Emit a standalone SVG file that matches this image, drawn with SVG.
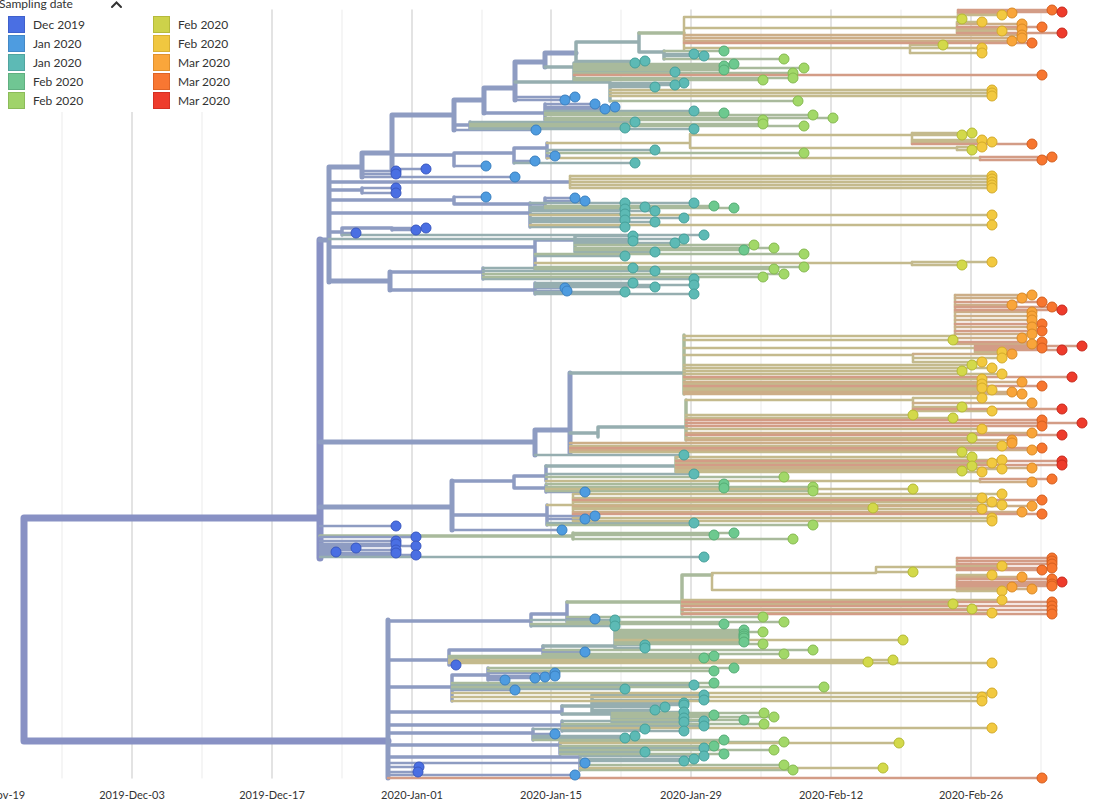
<svg xmlns="http://www.w3.org/2000/svg" width="1097" height="808" viewBox="0 0 1097 808">
<style>
.gl{stroke:#dcdcdc;stroke-width:1.6}
.gs{stroke:#eeeeee;stroke-width:1.2}
.ax{font-family:Lato,'Open Sans',sans-serif;font-size:11px;fill:#333;text-anchor:middle}
.lg{font-family:Lato,'Open Sans',sans-serif;font-size:12px;fill:#333}
path{fill:none;stroke-linecap:round}
.k0{stroke:#8891C4;stroke-width:7}
.k1{stroke:#8E9CC2}
.k2{stroke:#96AEB0}
.k3{stroke:#A9BA9C}
.k4{stroke:#C4BA8D}
.k5{stroke:#CCAE88}
.k6{stroke:#D39C86}
.w5{stroke-width:5}
.w4{stroke-width:3.5}
.w3{stroke-width:2.5}
circle{stroke-width:1}
.c1{fill:#4A6FE3;stroke:#3A58C0}
.c2{fill:#4E9CE0;stroke:#3A80C0}
.c3{fill:#5DBAB5;stroke:#45A09A}
.c4{fill:#6DC98F;stroke:#55AD75}
.c5{fill:#A2D868;stroke:#86BA50}
.c6{fill:#D3D94A;stroke:#B4BA33}
.c7{fill:#F2C940;stroke:#D4AB2A}
.c8{fill:#F9A53A;stroke:#DA8A26}
.c9{fill:#F7762F;stroke:#D55E1E}
.c10{fill:#EE3B2B;stroke:#C8291C}
</style>
<rect width="1097" height="808" fill="#ffffff"/>
<g id="grid">
<path class="gs" d="M62 10V778M202 10V778M342 10V778M482 10V778M621 10V778M761 10V778M901 10V778M1041 10V778"/>
<path class="gl" d="M132 10V778M272 10V778M412 10V778M551 10V778M691 10V778M831 10V778M971 10V778"/>
</g>
<g id="axis-labels">
<text class="ax" x="-8" y="799">2019-Nov-19</text>
<text class="ax" x="132" y="799">2019-Dec-03</text>
<text class="ax" x="272" y="799">2019-Dec-17</text>
<text class="ax" x="412" y="799">2020-Jan-01</text>
<text class="ax" x="551" y="799">2020-Jan-15</text>
<text class="ax" x="691" y="799">2020-Jan-29</text>
<text class="ax" x="831" y="799">2020-Feb-12</text>
<text class="ax" x="971" y="799">2020-Feb-26</text>
</g>
<g id="connectors">
<path class="k0" d="M24 518V741M24 518H320M24 741H388M320 240V558"/>
<path class="k1 w5" d="M320 240H329M329 167V282M329 167H362M362 153V177M362 153H392M392 115V169M392 115H454M454 100V130M454 100H484M484 88V113M484 88H515M515 62V100M515 62H545M545 53V67M545 53H576M320 442H535M535 430V455M535 430H570M570 373V453M320 507H452M452 481V530M388 620V778M329 281H390M390 272V290"/>
<path class="k1 w4" d="M392 155H454M454 153V166M454 153H514M514 148V163M514 148H547M547 143V158M329 190H362M362 188V193M329 200H454M454 197V204M454 204H545M545 198V208M329 213H530M530 203V227M329 232H342M342 228V235M342 228H392M392 228V230M329 247H535M535 240V269M390 272H483M483 268V279M390 290H535M535 283V294M484 113H545M545 104V120M454 125H470M470 122V129M452 481H514M514 476V488M514 476H546M546 466V481M514 488H546M546 485V492M452 515H547M547 505V525M388 621H531M531 614V626M531 614H567M567 602V622M388 660H449M449 650V665M449 650H543M543 646V654M388 687H452M452 675V701M452 675H488M488 668V680M388 712H562M562 706V714M388 725H562M562 721V731M388 733H533M533 729V740M388 745H560M560 742V754M388 757H580M580 756V770M329 182H570M535 240H575"/>
<path class="k2 w4" d="M576 42V61M576 42H639M639 33V52M639 52H664M664 51V59M545 67H574M574 63V80M515 82H610M610 82V101M575 236V252M570 373H684M570 433H598M598 427V437M598 427H686M543 646H615M615 630V648M562 706H592M592 695V712M562 714H612M612 713V722M546 466H676"/>
<path class="k3 w4" d="M639 33H684M684 335V394M686 400V440M676 457V472M320 536H573M573 533V539M567 602H682M682 575V614M682 575H712"/>
<path class="k4 w3" d="M684 17V50M684 17H958M958 10V19M684 28H957M957 22V33M684 48H910M910 45V53M547 143H690M690 134V148M690 135H912M912 133V144M690 148H957M957 147V150M547 158H980M980 157V160M570 176V188M684 336H955M955 295V344M684 348H975M975 346V352M684 355H913M913 354V362M686 400H913M913 398V411M535 263H912M912 262V265M546 481H980M980 479V482M547 505H573M573 494V521M712 573V590M712 573H876M876 567V572M876 567H957M957 558V570M712 590H957M957 575V591"/>
<path class="k1 w3" d="M515 97H575M515 100H565M545 104H595M545 107H615M545 109H605M454 130H536M547 156H555M514 161H535M454 166H486M392 169H426M362 171H396M362 174H396M362 177H515M362 188H396M362 193H396M454 197H486M545 198H575M545 201H585M342 233H356M392 228H426M392 230H416M535 288H565M535 291H567M546 492H585M547 516H595M547 519H585M320 526H396M452 530H562M320 537H416M320 541H396M320 544H396M320 546H416M320 548H356M320 550H396M320 552H336M320 553H396M320 555H416M567 619H595M543 652H585M449 665H456M488 673H555M488 676H555M488 677H545M488 678H535M488 680H505M452 690H515M533 734H555M388 763H585M388 767H419M388 772H418M388 775H575"/>
<path class="k2 w3" d="M664 54H694M664 56H704M576 61H645M574 63H635M574 72H675M610 83H684M610 85H675M610 87H655M545 111H694M470 122H635M470 128H625M470 129H694M547 150H655M514 163H635M545 203H694M530 203H625M530 207H645M530 209H625M530 211H655M530 214H625M530 218H684M530 220H625M530 222H655M530 227H625M342 235H704M329 239H684M575 236H633M575 241H633M575 243H675M575 252H655M535 256H625M483 268H633M483 271H655M483 279H694M535 283H633M535 285H694M535 287H655M535 292H625M535 294H694M535 455H684M546 474H694M547 523H694M320 557H704M531 620H615M531 626H615M615 645H645M615 648H645M452 685H694M452 689H625M592 695H704M592 700H704M592 703H684M592 705H684M592 707H665M592 710H655M592 712H684M612 718H684M612 722H684M562 721H704M562 726H704M562 731H684M533 729H645M533 736H635M533 738H625M560 748H704M560 752H645M580 756H704M580 759H694M580 761H684"/>
<path class="k3 w3" d="M664 51H724M664 59H784M574 64H734M574 66H724M574 68H804M574 70H724M574 73H793M574 78H793M574 80H763M610 101H798M545 113H724M545 115H813M545 118H833M545 120H763M470 124H763M470 126H804M547 153H804M545 206H714M545 208H734M575 245H754M575 248H774M575 250H744M535 254H804M535 267H804M535 269H774M483 274H784M483 277H763M546 477H784M546 484H724M546 487H813M546 488H724M546 491H813M547 525H813M573 533H734M573 535H714M573 539H793M567 617H763M567 622H784M531 624H724M615 630H744M615 632H763M615 634H744M615 636H744M615 638H744M615 642H744M615 644H763M543 650H813M543 654H784M449 656H714M449 658H704M488 668H734M488 671H714M452 683H714M452 687H824M612 713H764M612 715H714M612 717H774M612 720H744M562 724H764M533 740H724M560 742H784M560 746H714M560 750H774M560 754H724M580 765H784M580 770H793"/>
<path class="k4 w3" d="M958 15H1002M958 19H962M957 22H982M957 31H1002M910 45H943M910 48H982M910 53H982M610 90H992M610 93H992M610 96H992M912 133H972M912 135H962M912 140H982M912 142H992M957 147H982M957 150H972M570 176H992M570 179H992M570 182H992M570 185H992M570 188H992M530 215H992M530 225H992M912 262H992M912 265H962M684 340H953M975 352H1002M913 358H1002M913 362H982M684 365H972M684 368H992M684 371H962M684 374H1002M684 379H982M684 384H982M684 388H982M684 390H992M913 398H982M913 407H962M913 411H992M686 415H913M686 418H953M686 429H982M686 438H972M570 446H1002M570 452H962M676 457H972M676 460H1002M676 463H992M676 466H972M676 469H1002M676 471H962M676 472H982M546 489H913M573 494H1002M573 498H982M573 502H992M573 505H1002M573 508H873M573 509H982M573 518H992M573 521H992M957 566H1002M876 572H913M957 575H992M957 591H1002M682 600H1002M682 604H953M682 609H972M682 613H992M615 640H903M449 660H893M449 662H868M449 663H992M452 693H992M452 697H982M452 701H982M562 728H992M560 743H899M580 768H883"/>
<path class="k5 w3" d="M958 13H1012M957 24H1022M957 29H1022M684 35H1022M684 38H1022M684 41H1012M955 295H1032M955 298H1022M955 305H1012M955 312H1032M955 316H1032M955 320H1032M955 327H1032M955 334H1032M955 338H1022M955 344H1032M913 354H1012M684 382H1022M684 392H1012M684 394H1022M913 403H1032M686 433H1032M686 440H1012M570 443H1012M570 450H1032M676 468H1032M980 482H1032M573 506H1032M573 512H1022M957 577H1022M957 587H1012M957 589H1032"/>
<path class="k6 w3" d="M958 10H1052M958 12H1062M957 27H1042M957 33H1062M684 43H1032M574 75H1042M912 144H1032M980 157H1052M980 160H1042M955 302H1042M955 307H1052M955 310H1062M955 324H1042M955 331H1042M955 342H1042M975 346H1082M975 348H1042M975 350H1062M684 377H1072M684 386H1042M913 409H1062M686 420H1042M686 423H1082M686 426H1042M686 435H1062M570 448H1042M676 461H1062M676 465H1062M980 479H1052M573 500H1042M573 514H1042M957 558H1052M957 561H1052M957 564H1052M957 568H1052M957 570H1042M957 579H1052M957 582H1062M957 584H1052M957 586H1052M682 602H1052M682 606H1052M682 610H1052M682 614H1052M388 778H1042"/>
</g>
<g id="clade-upper">
<circle class="c9" cx="1052" cy="10" r="5"/><circle class="c10" cx="1062" cy="12" r="5"/><circle class="c8" cx="1012" cy="13" r="5"/><circle class="c7" cx="1002" cy="15" r="5"/><circle class="c6" cx="962" cy="19" r="5"/><circle class="c7" cx="982" cy="22" r="5"/><circle class="c8" cx="1022" cy="24" r="5"/><circle class="c9" cx="1042" cy="27" r="5"/><circle class="c8" cx="1022" cy="29" r="5"/><circle class="c7" cx="1002" cy="31" r="5"/><circle class="c10" cx="1062" cy="33" r="5"/><circle class="c8" cx="1022" cy="35" r="5"/><circle class="c8" cx="1022" cy="38" r="5"/><circle class="c8" cx="1012" cy="41" r="5"/><circle class="c9" cx="1032" cy="43" r="5"/><circle class="c6" cx="943" cy="45" r="5"/><circle class="c7" cx="982" cy="48" r="5"/><circle class="c7" cx="982" cy="53" r="5"/>
<circle class="c4" cx="724" cy="51" r="5"/><circle class="c3" cx="694" cy="54" r="5"/><circle class="c3" cx="704" cy="56" r="5"/><circle class="c5" cx="784" cy="59" r="5"/><circle class="c3" cx="645" cy="61" r="5"/><circle class="c4" cx="734" cy="64" r="5"/><circle class="c4" cx="724" cy="66" r="5"/><circle class="c3" cx="635" cy="63" r="5"/><circle class="c5" cx="804" cy="68" r="5"/><circle class="c4" cx="724" cy="70" r="5"/><circle class="c3" cx="675" cy="72" r="5"/><circle class="c5" cx="793" cy="73" r="5"/><circle class="c9" cx="1042" cy="75" r="5"/><circle class="c5" cx="793" cy="78" r="5"/><circle class="c5" cx="763" cy="80" r="5"/>
<circle class="c3" cx="684" cy="83" r="5"/><circle class="c3" cx="675" cy="85" r="5"/><circle class="c3" cx="655" cy="87" r="5"/><circle class="c7" cx="992" cy="90" r="5"/><circle class="c7" cx="992" cy="93" r="5"/><circle class="c7" cx="992" cy="96" r="5"/><circle class="c5" cx="798" cy="101" r="5"/><circle class="c2" cx="575" cy="97" r="5"/><circle class="c2" cx="565" cy="100" r="5"/>
<circle class="c2" cx="595" cy="104" r="5"/><circle class="c2" cx="615" cy="107" r="5"/><circle class="c2" cx="605" cy="109" r="5"/><circle class="c3" cx="694" cy="111" r="5"/><circle class="c4" cx="724" cy="113" r="5"/><circle class="c5" cx="813" cy="115" r="5"/><circle class="c5" cx="833" cy="118" r="5"/><circle class="c5" cx="763" cy="120" r="5"/><circle class="c3" cx="635" cy="122" r="5"/><circle class="c5" cx="763" cy="124" r="5"/><circle class="c5" cx="804" cy="126" r="5"/><circle class="c3" cx="625" cy="128" r="5"/><circle class="c2" cx="536" cy="130" r="5"/><circle class="c3" cx="694" cy="129" r="5"/>
<circle class="c6" cx="972" cy="133" r="5"/><circle class="c6" cx="962" cy="135" r="5"/><circle class="c7" cx="982" cy="140" r="5"/><circle class="c7" cx="992" cy="142" r="5"/><circle class="c9" cx="1032" cy="144" r="5"/><circle class="c7" cx="982" cy="147" r="5"/><circle class="c6" cx="972" cy="150" r="5"/><circle class="c3" cx="655" cy="150" r="5"/><circle class="c5" cx="804" cy="153" r="5"/><circle class="c2" cx="555" cy="156" r="5"/><circle class="c9" cx="1052" cy="157" r="5"/><circle class="c9" cx="1042" cy="160" r="5"/><circle class="c2" cx="535" cy="161" r="5"/><circle class="c3" cx="635" cy="163" r="5"/><circle class="c2" cx="486" cy="166" r="5"/><circle class="c1" cx="426" cy="169" r="5"/><circle class="c1" cx="396" cy="171" r="5"/><circle class="c1" cx="396" cy="174" r="5"/><circle class="c2" cx="515" cy="177" r="5"/>
<circle class="c7" cx="992" cy="176" r="5"/><circle class="c7" cx="992" cy="179" r="5"/><circle class="c7" cx="992" cy="182" r="5"/><circle class="c7" cx="992" cy="185" r="5"/><circle class="c7" cx="992" cy="188" r="5"/><circle class="c1" cx="396" cy="188" r="5"/><circle class="c1" cx="396" cy="193" r="5"/><circle class="c2" cx="486" cy="197" r="5"/><circle class="c2" cx="575" cy="198" r="5"/><circle class="c2" cx="585" cy="201" r="5"/><circle class="c3" cx="694" cy="203" r="5"/><circle class="c4" cx="714" cy="206" r="5"/><circle class="c4" cx="734" cy="208" r="5"/>
<circle class="c3" cx="625" cy="203" r="5"/><circle class="c3" cx="645" cy="207" r="5"/><circle class="c3" cx="625" cy="209" r="5"/><circle class="c3" cx="655" cy="211" r="5"/><circle class="c3" cx="625" cy="214" r="5"/><circle class="c7" cx="992" cy="215" r="5"/><circle class="c3" cx="684" cy="218" r="5"/><circle class="c3" cx="625" cy="220" r="5"/><circle class="c3" cx="655" cy="222" r="5"/><circle class="c7" cx="992" cy="225" r="5"/><circle class="c3" cx="625" cy="227" r="5"/>
<circle class="c1" cx="356" cy="233" r="5"/><circle class="c1" cx="426" cy="228" r="5"/><circle class="c1" cx="416" cy="230" r="5"/><circle class="c3" cx="704" cy="235" r="5"/><circle class="c3" cx="684" cy="239" r="5"/>
<circle class="c3" cx="633" cy="236" r="5"/><circle class="c3" cx="633" cy="241" r="5"/><circle class="c3" cx="675" cy="243" r="5"/><circle class="c5" cx="754" cy="245" r="5"/><circle class="c5" cx="774" cy="248" r="5"/><circle class="c4" cx="744" cy="250" r="5"/><circle class="c3" cx="655" cy="252" r="5"/><circle class="c5" cx="804" cy="254" r="5"/><circle class="c3" cx="625" cy="256" r="5"/><circle class="c7" cx="992" cy="262" r="5"/><circle class="c6" cx="962" cy="265" r="5"/><circle class="c5" cx="804" cy="267" r="5"/><circle class="c5" cx="774" cy="269" r="5"/>
<circle class="c3" cx="633" cy="268" r="5"/><circle class="c3" cx="655" cy="271" r="5"/><circle class="c5" cx="784" cy="274" r="5"/><circle class="c5" cx="763" cy="277" r="5"/><circle class="c3" cx="694" cy="279" r="5"/>
<circle class="c3" cx="633" cy="283" r="5"/><circle class="c3" cx="694" cy="285" r="5"/><circle class="c3" cx="655" cy="287" r="5"/><circle class="c2" cx="565" cy="288" r="5"/><circle class="c2" cx="567" cy="291" r="5"/><circle class="c3" cx="625" cy="292" r="5"/><circle class="c3" cx="694" cy="294" r="5"/>
</g>
<g id="clade-middle">
<circle class="c8" cx="1032" cy="295" r="5"/><circle class="c8" cx="1022" cy="298" r="5"/><circle class="c9" cx="1042" cy="302" r="5"/><circle class="c8" cx="1012" cy="305" r="5"/><circle class="c9" cx="1052" cy="307" r="5"/><circle class="c10" cx="1062" cy="310" r="5"/><circle class="c8" cx="1032" cy="312" r="5"/><circle class="c8" cx="1032" cy="316" r="5"/><circle class="c8" cx="1032" cy="320" r="5"/><circle class="c9" cx="1042" cy="324" r="5"/><circle class="c8" cx="1032" cy="327" r="5"/><circle class="c9" cx="1042" cy="331" r="5"/><circle class="c8" cx="1032" cy="334" r="5"/><circle class="c8" cx="1022" cy="338" r="5"/><circle class="c9" cx="1042" cy="342" r="5"/><circle class="c8" cx="1032" cy="344" r="5"/><circle class="c6" cx="953" cy="340" r="5"/>
<circle class="c10" cx="1082" cy="346" r="5"/><circle class="c9" cx="1042" cy="348" r="5"/><circle class="c10" cx="1062" cy="350" r="5"/><circle class="c7" cx="1002" cy="352" r="5"/><circle class="c8" cx="1012" cy="354" r="5"/><circle class="c7" cx="1002" cy="358" r="5"/><circle class="c7" cx="982" cy="362" r="5"/>
<circle class="c6" cx="972" cy="365" r="5"/><circle class="c7" cx="992" cy="368" r="5"/><circle class="c6" cx="962" cy="371" r="5"/><circle class="c7" cx="1002" cy="374" r="5"/><circle class="c10" cx="1072" cy="377" r="5"/><circle class="c7" cx="982" cy="379" r="5"/><circle class="c8" cx="1022" cy="382" r="5"/><circle class="c7" cx="982" cy="384" r="5"/><circle class="c9" cx="1042" cy="386" r="5"/><circle class="c7" cx="982" cy="388" r="5"/><circle class="c7" cx="992" cy="390" r="5"/><circle class="c8" cx="1012" cy="392" r="5"/><circle class="c8" cx="1022" cy="394" r="5"/>
<circle class="c7" cx="982" cy="398" r="5"/><circle class="c8" cx="1032" cy="403" r="5"/><circle class="c6" cx="962" cy="407" r="5"/><circle class="c10" cx="1062" cy="409" r="5"/><circle class="c7" cx="992" cy="411" r="5"/><circle class="c6" cx="913" cy="415" r="5"/><circle class="c6" cx="953" cy="418" r="5"/><circle class="c9" cx="1042" cy="420" r="5"/><circle class="c10" cx="1082" cy="423" r="5"/><circle class="c9" cx="1042" cy="426" r="5"/><circle class="c7" cx="982" cy="429" r="5"/><circle class="c8" cx="1032" cy="433" r="5"/><circle class="c10" cx="1062" cy="435" r="5"/><circle class="c6" cx="972" cy="438" r="5"/><circle class="c8" cx="1012" cy="440" r="5"/>
<circle class="c8" cx="1012" cy="443" r="5"/><circle class="c7" cx="1002" cy="446" r="5"/><circle class="c9" cx="1042" cy="448" r="5"/><circle class="c8" cx="1032" cy="450" r="5"/><circle class="c6" cx="962" cy="452" r="5"/><circle class="c6" cx="972" cy="457" r="5"/><circle class="c7" cx="1002" cy="460" r="5"/><circle class="c10" cx="1062" cy="461" r="5"/><circle class="c7" cx="992" cy="463" r="5"/><circle class="c10" cx="1062" cy="465" r="5"/><circle class="c6" cx="972" cy="466" r="5"/><circle class="c8" cx="1032" cy="468" r="5"/><circle class="c7" cx="1002" cy="469" r="5"/><circle class="c6" cx="962" cy="471" r="5"/><circle class="c7" cx="982" cy="472" r="5"/>
<circle class="c3" cx="684" cy="455" r="5"/><circle class="c3" cx="694" cy="474" r="5"/><circle class="c5" cx="784" cy="477" r="5"/><circle class="c9" cx="1052" cy="479" r="5"/><circle class="c8" cx="1032" cy="482" r="5"/><circle class="c4" cx="724" cy="484" r="5"/><circle class="c5" cx="813" cy="487" r="5"/><circle class="c6" cx="913" cy="489" r="5"/><circle class="c4" cx="724" cy="488" r="5"/><circle class="c5" cx="813" cy="491" r="5"/><circle class="c2" cx="585" cy="492" r="5"/>
<circle class="c7" cx="1002" cy="494" r="5"/><circle class="c7" cx="982" cy="498" r="5"/><circle class="c9" cx="1042" cy="500" r="5"/><circle class="c7" cx="992" cy="502" r="5"/><circle class="c7" cx="1002" cy="505" r="5"/><circle class="c8" cx="1032" cy="506" r="5"/><circle class="c6" cx="873" cy="508" r="5"/><circle class="c7" cx="982" cy="509" r="5"/><circle class="c8" cx="1022" cy="512" r="5"/><circle class="c9" cx="1042" cy="514" r="5"/><circle class="c7" cx="992" cy="518" r="5"/><circle class="c7" cx="992" cy="521" r="5"/><circle class="c2" cx="595" cy="516" r="5"/><circle class="c2" cx="585" cy="519" r="5"/><circle class="c3" cx="694" cy="523" r="5"/><circle class="c5" cx="813" cy="525" r="5"/>
<circle class="c1" cx="396" cy="526" r="5"/><circle class="c2" cx="562" cy="530" r="5"/><circle class="c4" cx="734" cy="533" r="5"/><circle class="c4" cx="714" cy="535" r="5"/><circle class="c5" cx="793" cy="539" r="5"/><circle class="c1" cx="416" cy="537" r="5"/><circle class="c1" cx="396" cy="541" r="5"/><circle class="c1" cx="396" cy="544" r="5"/><circle class="c1" cx="416" cy="546" r="5"/><circle class="c1" cx="356" cy="548" r="5"/><circle class="c1" cx="396" cy="550" r="5"/><circle class="c1" cx="336" cy="552" r="5"/><circle class="c1" cx="396" cy="553" r="5"/><circle class="c1" cx="416" cy="555" r="5"/><circle class="c3" cx="704" cy="557" r="5"/>
</g>
<g id="clade-lower">
<circle class="c9" cx="1052" cy="558" r="5"/><circle class="c9" cx="1052" cy="561" r="5"/><circle class="c9" cx="1052" cy="564" r="5"/><circle class="c7" cx="1002" cy="566" r="5"/><circle class="c9" cx="1052" cy="568" r="5"/><circle class="c9" cx="1042" cy="570" r="5"/><circle class="c6" cx="913" cy="572" r="5"/><circle class="c7" cx="992" cy="575" r="5"/><circle class="c8" cx="1022" cy="577" r="5"/><circle class="c9" cx="1052" cy="579" r="5"/><circle class="c10" cx="1062" cy="582" r="5"/><circle class="c9" cx="1052" cy="584" r="5"/><circle class="c9" cx="1052" cy="586" r="5"/><circle class="c8" cx="1012" cy="587" r="5"/><circle class="c8" cx="1032" cy="589" r="5"/><circle class="c7" cx="1002" cy="591" r="5"/>
<circle class="c7" cx="1002" cy="600" r="5"/><circle class="c9" cx="1052" cy="602" r="5"/><circle class="c6" cx="953" cy="604" r="5"/><circle class="c9" cx="1052" cy="606" r="5"/><circle class="c6" cx="972" cy="609" r="5"/><circle class="c9" cx="1052" cy="610" r="5"/><circle class="c7" cx="992" cy="613" r="5"/><circle class="c9" cx="1052" cy="614" r="5"/>
<circle class="c5" cx="763" cy="617" r="5"/><circle class="c2" cx="595" cy="619" r="5"/><circle class="c5" cx="784" cy="622" r="5"/><circle class="c3" cx="615" cy="620" r="5"/><circle class="c4" cx="724" cy="624" r="5"/><circle class="c3" cx="615" cy="626" r="5"/>
<circle class="c4" cx="744" cy="630" r="5"/><circle class="c5" cx="763" cy="632" r="5"/><circle class="c4" cx="744" cy="634" r="5"/><circle class="c4" cx="744" cy="636" r="5"/><circle class="c4" cx="744" cy="638" r="5"/><circle class="c6" cx="903" cy="640" r="5"/><circle class="c4" cx="744" cy="642" r="5"/><circle class="c5" cx="763" cy="644" r="5"/><circle class="c3" cx="645" cy="645" r="5"/><circle class="c3" cx="645" cy="648" r="5"/>
<circle class="c5" cx="813" cy="650" r="5"/><circle class="c2" cx="585" cy="652" r="5"/><circle class="c5" cx="784" cy="654" r="5"/><circle class="c4" cx="714" cy="656" r="5"/><circle class="c4" cx="704" cy="658" r="5"/><circle class="c6" cx="893" cy="660" r="5"/><circle class="c6" cx="868" cy="662" r="5"/><circle class="c7" cx="992" cy="663" r="5"/><circle class="c1" cx="456" cy="665" r="5"/>
<circle class="c4" cx="734" cy="668" r="5"/><circle class="c4" cx="714" cy="671" r="5"/><circle class="c2" cx="555" cy="673" r="5"/><circle class="c2" cx="555" cy="676" r="5"/><circle class="c2" cx="545" cy="677" r="5"/><circle class="c2" cx="535" cy="678" r="5"/><circle class="c2" cx="505" cy="680" r="5"/>
<circle class="c4" cx="714" cy="683" r="5"/><circle class="c3" cx="694" cy="685" r="5"/><circle class="c5" cx="824" cy="687" r="5"/><circle class="c3" cx="625" cy="689" r="5"/><circle class="c2" cx="515" cy="690" r="5"/><circle class="c7" cx="992" cy="693" r="5"/><circle class="c7" cx="982" cy="697" r="5"/><circle class="c7" cx="982" cy="701" r="5"/>
<circle class="c3" cx="704" cy="695" r="5"/><circle class="c3" cx="704" cy="700" r="5"/><circle class="c3" cx="684" cy="703" r="5"/><circle class="c3" cx="684" cy="705" r="5"/><circle class="c3" cx="665" cy="707" r="5"/><circle class="c3" cx="655" cy="710" r="5"/><circle class="c3" cx="684" cy="712" r="5"/>
<circle class="c5" cx="764" cy="713" r="5"/><circle class="c4" cx="714" cy="715" r="5"/><circle class="c5" cx="774" cy="717" r="5"/><circle class="c3" cx="684" cy="718" r="5"/><circle class="c4" cx="744" cy="720" r="5"/><circle class="c3" cx="684" cy="722" r="5"/>
<circle class="c3" cx="704" cy="721" r="5"/><circle class="c5" cx="764" cy="724" r="5"/><circle class="c3" cx="704" cy="726" r="5"/><circle class="c7" cx="992" cy="728" r="5"/><circle class="c3" cx="684" cy="731" r="5"/>
<circle class="c3" cx="645" cy="729" r="5"/><circle class="c2" cx="555" cy="734" r="5"/><circle class="c3" cx="635" cy="736" r="5"/><circle class="c3" cx="625" cy="738" r="5"/><circle class="c4" cx="724" cy="740" r="5"/>
<circle class="c5" cx="784" cy="742" r="5"/><circle class="c6" cx="899" cy="743" r="5"/><circle class="c4" cx="714" cy="746" r="5"/><circle class="c3" cx="704" cy="748" r="5"/><circle class="c5" cx="774" cy="750" r="5"/><circle class="c3" cx="645" cy="752" r="5"/><circle class="c4" cx="724" cy="754" r="5"/>
<circle class="c3" cx="704" cy="756" r="5"/><circle class="c3" cx="694" cy="759" r="5"/><circle class="c3" cx="684" cy="761" r="5"/><circle class="c5" cx="784" cy="765" r="5"/><circle class="c6" cx="883" cy="768" r="5"/><circle class="c5" cx="793" cy="770" r="5"/>
<circle class="c2" cx="585" cy="763" r="5"/><circle class="c1" cx="419" cy="767" r="5"/><circle class="c1" cx="418" cy="772" r="5"/><circle class="c2" cx="575" cy="775" r="5"/><circle class="c9" cx="1042" cy="778" r="5"/>
</g>
<g id="legend">
<rect x="0" y="0" width="240" height="112" fill="#ffffff"/>
<text class="lg" x="-1" y="8">Sampling date</text>
<path d="M112 7L116.5 2.5L121 7" stroke="#333" stroke-width="2" fill="none" stroke-linecap="butt"/>
<g stroke-width="1">
<rect x="8.5" y="16.5" width="16" height="16" fill="#4A6FE3" stroke="#3F60CC"/>
<rect x="8.5" y="35.5" width="16" height="16" fill="#4E9CE0" stroke="#4388C6"/>
<rect x="8.5" y="54.5" width="16" height="16" fill="#5DBAB5" stroke="#50A49F"/>
<rect x="8.5" y="73.5" width="16" height="16" fill="#70C693" stroke="#60AF80"/>
<rect x="8.5" y="92.5" width="16" height="16" fill="#A0D36A" stroke="#8CBB5A"/>
<rect x="153.5" y="16.5" width="16" height="16" fill="#CDD24A" stroke="#B5BA3C"/>
<rect x="153.5" y="35.5" width="16" height="16" fill="#F0C740" stroke="#D8B035"/>
<rect x="153.5" y="54.5" width="16" height="16" fill="#FAA63B" stroke="#E0912F"/>
<rect x="153.5" y="73.5" width="16" height="16" fill="#F87732" stroke="#DE6427"/>
<rect x="153.5" y="92.5" width="16" height="16" fill="#EE3C2C" stroke="#D43024"/>
</g>
<text class="lg" x="33" y="29">Dec 2019</text>
<text class="lg" x="33" y="48">Jan 2020</text>
<text class="lg" x="33" y="67">Jan 2020</text>
<text class="lg" x="33" y="86">Feb 2020</text>
<text class="lg" x="33" y="105">Feb 2020</text>
<text class="lg" x="178" y="29">Feb 2020</text>
<text class="lg" x="178" y="48">Feb 2020</text>
<text class="lg" x="178" y="67">Mar 2020</text>
<text class="lg" x="178" y="86">Mar 2020</text>
<text class="lg" x="178" y="105">Mar 2020</text>
</g>
</svg>
